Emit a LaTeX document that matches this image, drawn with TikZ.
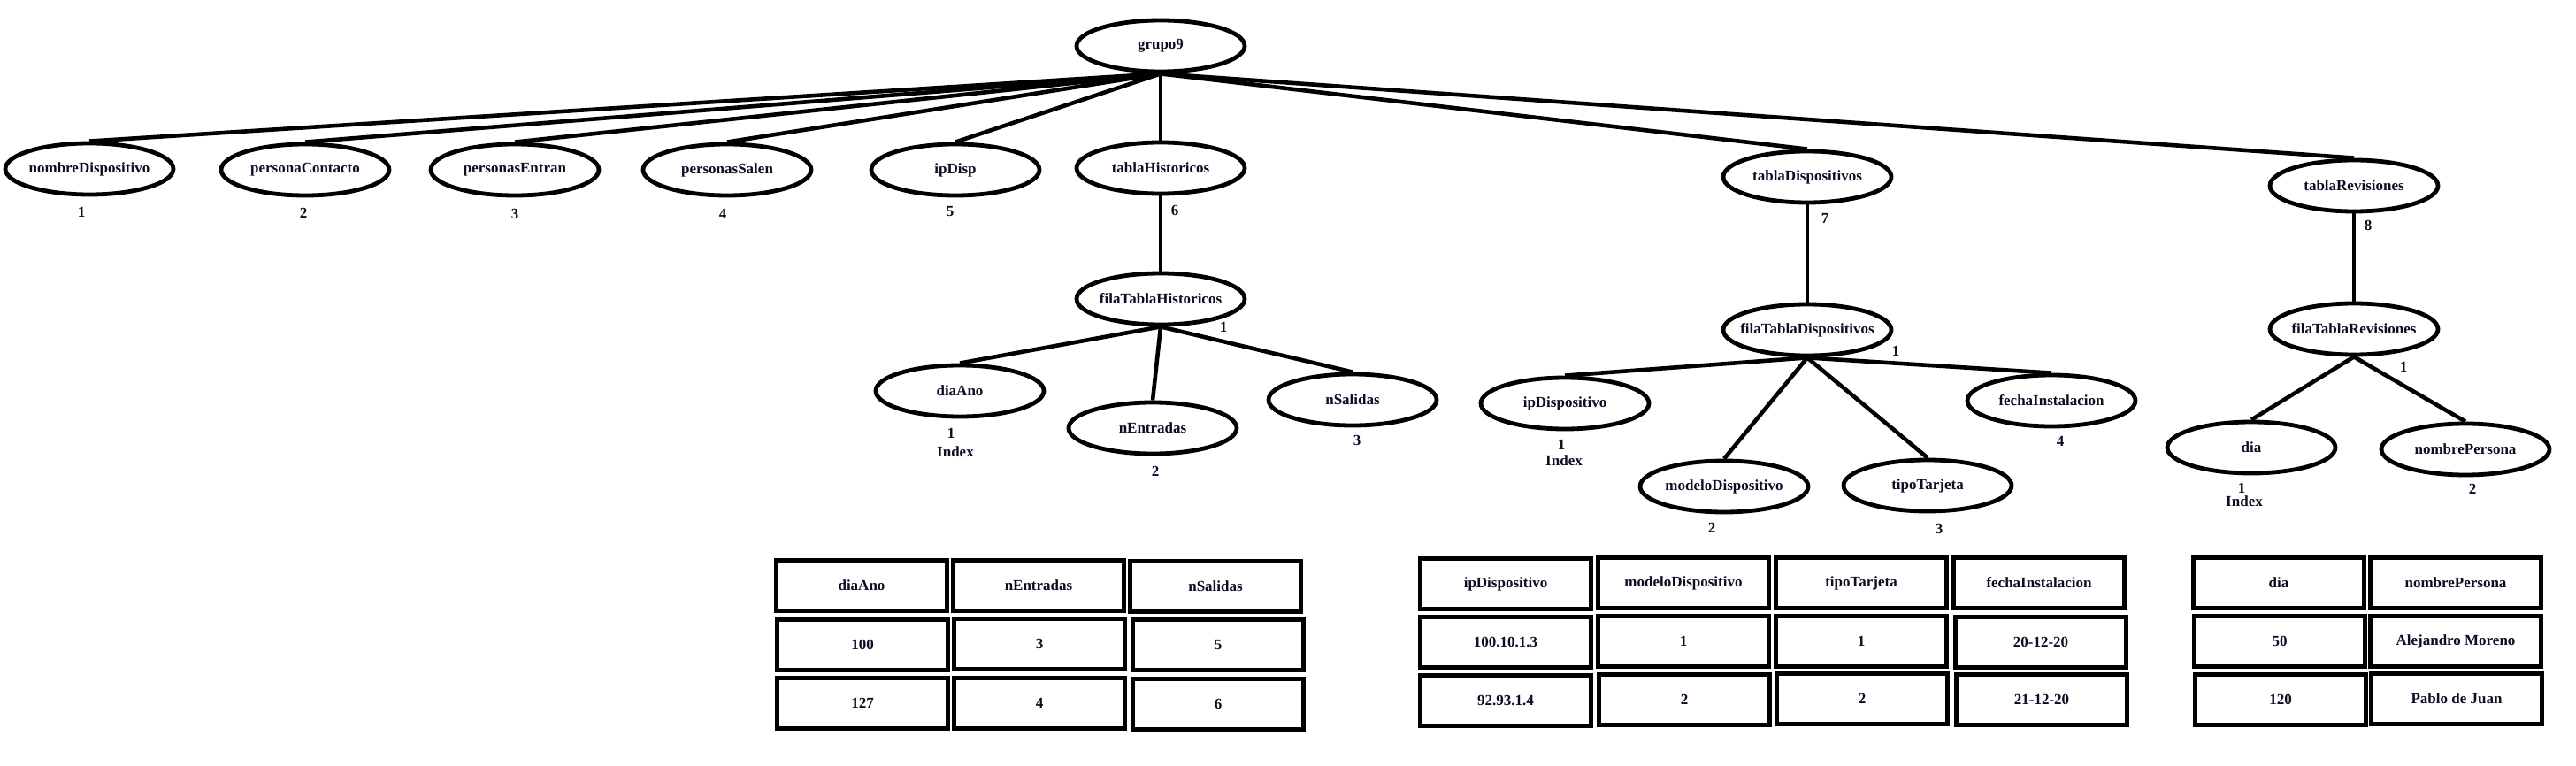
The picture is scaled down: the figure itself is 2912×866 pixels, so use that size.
\documentclass[tikz,border=0pt]{standalone}
\usepackage{fontspec}
\setmainfont{Liberation Serif}
\usetikzlibrary{shapes.geometric}
\definecolor{ink}{RGB}{12,12,35}
\newcommand{\ztxt}[1]{\makebox[0pt]{#1}}
\begin{document}
\begin{tikzpicture}[x=0.5pt,y=-0.5pt,
  every node/.style={font=\bfseries\fontsize{8.5}{10}\selectfont, text=ink},
  attr/.style={ellipse, draw=black, line width=2.4pt, minimum width=95pt, minimum height=29pt, inner sep=0pt},
  cell/.style={rectangle, draw=black, line width=2.5pt, minimum width=96.5pt, minimum height=28.5pt, inner sep=0pt},
  lbl/.style={inner sep=0pt},
  link/.style={line width=2.3pt}]
\useasboundingbox (0,0) rectangle (2912,866);
% ---- ellipses ----
\node[attr] (g)   at (1312,52)  {\ztxt{grupo9}};
\node[attr] (nd)  at (101,191)  {\ztxt{nombreDispositivo}};
\node[attr] (pc)  at (345,192)  {\ztxt{personaContacto}};
\node[attr] (pe)  at (582,192)  {\ztxt{personasEntran}};
\node[attr] (ps)  at (822,192)  {\ztxt{personasSalen}};
\node[attr] (ip)  at (1080,192) {\ztxt{ipDisp}};
\node[attr] (th)  at (1312,190) {\ztxt{tablaHistoricos}};
\node[attr] (td)  at (2043,200) {\ztxt{tablaDispositivos}};
\node[attr] (tr)  at (2661,210) {\ztxt{tablaRevisiones}};
\node[attr] (fh)  at (1312,338) {\ztxt{filaTablaHistoricos}};
\node[attr] (da)  at (1085,442) {\ztxt{diaAno}};
\node[attr] (ne)  at (1303,484) {\ztxt{nEntradas}};
\node[attr] (ns)  at (1529,452) {\ztxt{nSalidas}};
\node[attr] (fd)  at (2043,373) {\ztxt{filaTablaDispositivos}};
\node[attr] (ipd) at (1769,456) {\ztxt{ipDispositivo}};
\node[attr] (md)  at (1949,550) {\ztxt{modeloDispositivo}};
\node[attr] (tt)  at (2179,549) {\ztxt{tipoTarjeta}};
\node[attr] (fi)  at (2319,453) {\ztxt{fechaInstalacion}};
\node[attr] (fr)  at (2661,372) {\ztxt{filaTablaRevisiones}};
\node[attr] (di)  at (2545,506) {\ztxt{dia}};
\node[attr] (np)  at (2787,508) {\ztxt{nombrePersona}};
% ---- connectors ----
\foreach \c in {nd,pc,pe,ps,ip,th,td,tr} \draw[link] (g.south) -- (\c.north);
\draw[link] (th.south) -- (fh.north);
\foreach \c in {da,ne,ns} \draw[link] (fh.south) -- (\c.north);
\draw[link] (td.south) -- (fd.north);
\foreach \c in {ipd,md,tt,fi} \draw[link] (fd.south) -- (\c.north);
\draw[link] (tr.south) -- (fr.north);
\foreach \c in {di,np} \draw[link] (fr.south) -- (\c.north);
% ---- labels ----
\node[lbl] (l1) at (92,240) {1};
\node[lbl] (l2) at (343,241) {2};
\node[lbl] (l3) at (582,242) {3};
\node[lbl] (l4) at (817,242) {4};
\node[lbl] (l5) at (1074,239) {5};
\node[lbl] (l6) at (1328,238) {6};
\node[lbl] (l7) at (2063,247) {7};
\node[lbl] (l8) at (2677,255) {8};
\node[lbl] (lfh) at (1383,370) {1};
\node[lbl] (lda) at (1075,490) {1};
\node[lbl] (lday) at (1080,511) {Index};
\node[lbl] (lne) at (1306,533) {2};
\node[lbl] (lns) at (1534,498) {3};
\node[lbl] (lfd) at (2143,397) {1};
\node[lbl] (lip) at (1765,503) {1};
\node[lbl] (lipx) at (1768,521) {Index};
\node[lbl] (lmd) at (1935,597) {2};
\node[lbl] (ltt) at (2192,598) {3};
\node[lbl] (lfi) at (2329,499) {4};
\node[lbl] (lfr) at (2717,415) {1};
\node[lbl] (ldi) at (2534,552) {1};
\node[lbl] (ldix) at (2537,567) {Index};
\node[lbl] (lnp) at (2795,553) {2};
% ---- table 1 ----
\node[cell] (a11) at (974,662)  {\ztxt{diaAno}};
\node[cell] (a12) at (1174,662) {\ztxt{nEntradas}};
\node[cell] (a13) at (1374,663) {\ztxt{nSalidas}};
\node[cell] (a21) at (975,729)  {\ztxt{100}};
\node[cell] (a22) at (1175,728) {\ztxt{3}};
\node[cell] (a23) at (1377,729) {\ztxt{5}};
\node[cell] (a31) at (975,795)  {\ztxt{127}};
\node[cell] (a32) at (1175,795) {\ztxt{4}};
\node[cell] (a33) at (1377,796) {\ztxt{6}};
% ---- table 2 ----
\node[cell] (b11) at (1702,660) {\ztxt{ipDispositivo}};
\node[cell] (b12) at (1903,659) {\ztxt{modeloDispositivo}};
\node[cell] (b13) at (2104,659) {\ztxt{tipoTarjeta}};
\node[cell] (b14) at (2305,659) {\ztxt{fechaInstalacion}};
\node[cell] (b21) at (1702,726) {\ztxt{100.10.1.3}};
\node[cell] (b22) at (1903,725) {\ztxt{1}};
\node[cell] (b23) at (2104,725) {\ztxt{1}};
\node[cell] (b24) at (2307,726) {\ztxt{20-12-20}};
\node[cell] (b31) at (1702,792) {\ztxt{92.93.1.4}};
\node[cell] (b32) at (1904,791) {\ztxt{2}};
\node[cell] (b33) at (2105,790) {\ztxt{2}};
\node[cell] (b34) at (2308,791) {\ztxt{21-12-20}};
% ---- table 3 ----
\node[cell] (c11) at (2576,659) {\ztxt{dia}};
\node[cell] (c12) at (2776,659) {\ztxt{nombrePersona}};
\node[cell] (c21) at (2577,725) {\ztxt{50}};
\node[cell] (c22) at (2776,725) {\ztxt{Alejandro Moreno}};
\node[cell] (c31) at (2578,791) {\ztxt{120}};
\node[cell] (c32) at (2777,790) {\ztxt{Pablo de Juan}};
\end{tikzpicture}
\end{document}
